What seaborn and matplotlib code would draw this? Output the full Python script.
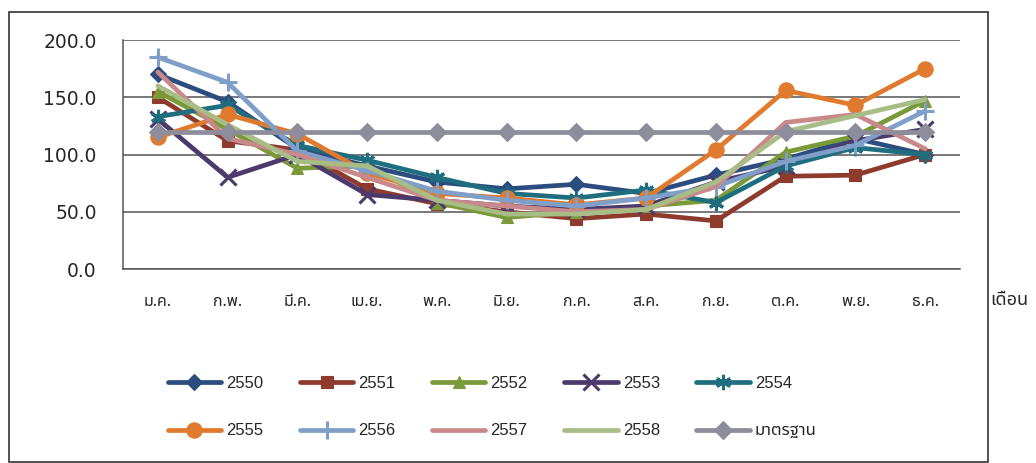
import numpy as np
import pandas as pd
import matplotlib
matplotlib.use("Agg")
import matplotlib.pyplot as plt
import seaborn as sns
from matplotlib import font_manager
from matplotlib.ft2font import FT2Font
from matplotlib.patches import Rectangle

# data
months = ["ม.ค.", "ก.พ.", "มี.ค.", "เม.ย.", "พ.ค.", "มิ.ย.",
          "ก.ค.", "ส.ค.", "ก.ย.", "ต.ค.", "พ.ย.", "ธ.ค."]
y2550 = [170, 146, 105, 90, 76, 70, 74, 66, 82, 96, 114, 100]
y2551 = [150, 112, 104, 70, 57, 50, 44, 48, 42, 81, 82, 100]
y2552 = [155, 122, 88, 90, 58, 45, 50, 55, 60, 102, 116, 147]
y2553 = [131, 80, 100, 65, 60, 55, 52, 55, 76, 90, 112, 122]
y2554 = [133, 143, 108, 95, 80, 66, 62, 69, 58, 90, 106, 100]
y2555 = [115, 135, 118, 84, 66, 62, 56, 62, 104, 156, 143, 175]
y2556 = [185, 163, 103, 86, 68, 60, 55, 62, 72, 94, 108, 138]
y2557 = [172, 114, 100, 80, 60, 55, 50, 52, 72, 128, 135, 105]
y2558 = [160, 126, 94, 90, 60, 48, 48, 52, 76, 120, 134, 148]
standard = [120] * 12

series_names = ["2550", "2551", "2552", "2553", "2554",
                "2555", "2556", "2557", "2558", "มาตรฐาน"]
series_values = [y2550, y2551, y2552, y2553, y2554,
                 y2555, y2556, y2557, y2558, standard]


def find_thai_font():
    wanted = ["Noto Sans Thai", "Noto Sans Thai UI", "Loma", "Tlwg Typo",
              "Garuda", "Sarabun", "Kinnari", "Norasi", "Waree", "Umpush"]
    found = []
    for f in font_manager.fontManager.ttflist:
        try:
            if 0x0E01 in FT2Font(f.fname).get_charmap():
                found.append(f.name)
        except Exception:
            pass
    for w in wanted:
        if w in found:
            return w
    if found:
        return found[0]
    return "DejaVu Sans"


sns.set_style("white")
thai = find_thai_font()
plt.rcParams["font.family"] = ["DejaVu Sans", thai]

colors = ["#2B4C7E", "#8E3B2E", "#7A9A3A", "#4B3A6B", "#1F6E80",
          "#E07A2E", "#7F9FC8", "#C9898A", "#A8BD86", "#8D8D9B"]
markers = ["D", "s", "^", "x", (6, 2, 0), "o", "+", None, None, "D"]
msizes = [8, 9, 9, 11, 11, 11, 13, 0, 0, 9]

rows = []
for name, vals in zip(series_names, series_values):
    for i, v in enumerate(vals):
        rows.append({"series": name, "m": i, "value": v})
df = pd.DataFrame(rows)

fig = plt.figure(figsize=(10.36, 4.63), dpi=100)
ax = fig.add_axes([0.1187, 0.419, 0.808, 0.4946])

for name, c, mk, ms in zip(series_names, colors, markers, msizes):
    sub = df[df["series"] == name]
    sns.lineplot(data=sub, x="m", y="value", ax=ax, color=c, lw=3.4,
                 marker=mk, markersize=ms, markeredgewidth=2.2 if mk in ["x", "+", (6, 2, 0)] else 0.8,
                 markeredgecolor=c, label=name)

ax.set_xlim(-0.5, 11.5)
ax.set_ylim(0, 200)
ax.set_xticks(range(12))
ax.set_xticklabels(months, family=[thai, "DejaVu Sans"], fontsize=11.5)
ax.set_xticks(np.arange(-0.5, 12, 1), minor=True)
ax.tick_params(axis="x", which="major", length=0, pad=18)
ax.tick_params(axis="x", which="minor", length=6, width=1, color="#555555", direction="out")
ax.set_yticks([0, 50, 100, 150, 200])
ax.set_yticklabels(["%.1f" % v for v in [0, 50, 100, 150, 200]], fontsize=13.5)
ax.tick_params(axis="y", length=6, width=1, color="#555555", direction="out", pad=13)
ax.yaxis.grid(True, color="#555555", lw=1.1)
ax.set_xlabel("")
ax.set_ylabel("")
for s in ["top", "right"]:
    ax.spines[s].set_visible(False)
for s in ["left", "bottom"]:
    ax.spines[s].set_color("#555555")
    ax.spines[s].set_linewidth(1.1)

# legend fills by column, so reorder to read row by row like the original
handles, labels = ax.get_legend_handles_labels()
ax.get_legend().remove()
order = [0, 5, 1, 6, 2, 7, 3, 8, 4, 9]
fig.legend([handles[i] for i in order], [labels[i] for i in order],
           ncol=5, loc="upper left",
           bbox_to_anchor=(0.162, 0.188), frameon=False,
           prop={"family": ["Liberation Sans", thai], "size": 12},
           handlelength=3.2, handletextpad=0.3, columnspacing=2.2,
           labelspacing=1.95, borderpad=0, borderaxespad=0)

fig.text(0.956, 0.352, "เดือน", family=[thai, "DejaVu Sans"], fontsize=13,
         ha="left", va="center")

fig.add_artist(Rectangle((9 / 1036, 0.002), (988 - 9) / 1036, (462 - 12) / 463,
                         transform=fig.transFigure, fill=False,
                         edgecolor="#333333", lw=1.2))

fig.savefig("out.png", dpi=100)
